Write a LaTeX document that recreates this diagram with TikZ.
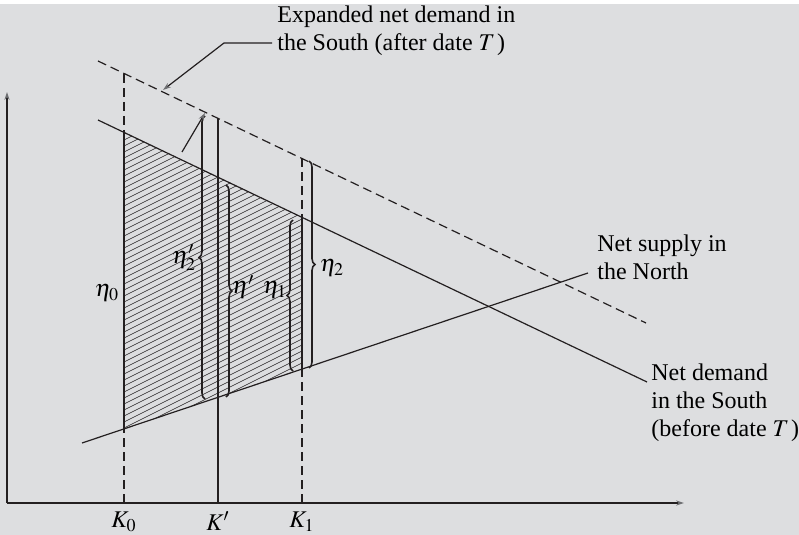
\documentclass[tikz,border=0pt]{standalone}
\usepackage{mathptmx}
\usepackage{fontspec}
\setmainfont{Liberation Serif}
\usetikzlibrary{arrows.meta,decorations.pathreplacing}
\definecolor{FigBack}{HTML}{DDDEE0}
\definecolor{FigInk}{HTML}{231F20}
\definecolor{FigTip}{HTML}{6D6E71}
\tikzset{
  thinline/.style={FigInk,line width=0.6pt},
  dashline/.style={FigInk,line width=0.6pt,dash pattern=on 4.5pt off 2.5pt},
  boundline/.style={FigInk,line width=1.1pt},
  bracemark/.style={FigInk,line width=0.8pt,decorate,decoration={brace,amplitude=3pt}},
  tipline/.style={FigInk,line width=0.6pt,-{Stealth[length=4pt,width=2.6pt,color=FigTip]}},
  textlbl/.style={align=left,anchor=west,inner sep=0pt,font=\fontsize{12}{14}\selectfont},
  mathlbl/.style={inner sep=0pt,font=\fontsize{12}{14}\selectfont},
}
\begin{document}
\begin{tikzpicture}[x=0.5pt,y=-0.5pt]
\path[use as bounding box] (0,0) rectangle (799,535);
\fill[FigBack] (0,4) rectangle (799,535);
% hatched area between K0 and K1
\begin{scope}
\clip (124,132) -- (302,217) -- (302,369) -- (124,429) -- cycle;
\foreach \yy in {137,143,...,527}
  \draw[FigInk,line width=0.25pt] (118,\yy) -- ++(190,-95);
\end{scope}
% axes
\draw[tipline] (7,503) -- (7,92);
\draw[tipline] (7,503) -- (684,503);
% demand and supply schedules
\draw[dashline] (98,61) -- (646,323);
\draw[thinline] (98,120) -- (647,382);
\draw[thinline] (82,443) -- (588,273);
% verticals
\draw[dashline] (124,74) -- (124,503);
\draw[boundline] (124,132) -- (124,429);
\draw[thinline,line width=0.9pt] (218,118) -- (218,503);
\draw[dashline] (302,158) -- (302,503);
\draw[boundline] (302,217) -- (302,369);
% braces
\draw[bracemark] (205,399) -- (205,116);
\draw[bracemark] (226,185) -- (226,397);
\draw[bracemark] (293,371) -- (293,220);
\draw[bracemark] (309,161) -- (309,368);
\node[mathlbl] (eta0) at (107,293) {$\eta_0$};
\node[mathlbl] (eta2p) at (184,258) {$\eta_2'$};
\node[mathlbl] (etap) at (243,287) {$\eta'$};
\node[mathlbl] (eta1) at (275,290) {$\eta_1$};
\node[mathlbl] (eta2) at (332,268) {$\eta_2$};
% axis labels
\node[mathlbl] (k0) at (124,522) {$K_0$};
\node[mathlbl] (kp) at (218,521) {$K'$};
\node[mathlbl] (k1) at (302,522) {$K_1$};
% curve labels
\node[textlbl] (expanded) at (277,31) {Expanded net demand in\\the South (after date $T$\kern1pt)};
\node[textlbl] (supply) at (597,257) {Net supply in\\the North};
\node[textlbl] (demand) at (651,403) {Net demand\\in the South\\(before date $T$\kern1pt)};
% leaders
\coordinate (expstart) at (272,43);
\coordinate (expbend) at (224,43);
\coordinate (exptip) at (163,90);
\draw[tipline] (expstart) -- (expbend) -- (exptip);
\coordinate (bracetail) at (182,152);
\coordinate (bracehead) at (205,113);
\draw[tipline] (bracetail) -- (bracehead);
\end{tikzpicture}
\end{document}
